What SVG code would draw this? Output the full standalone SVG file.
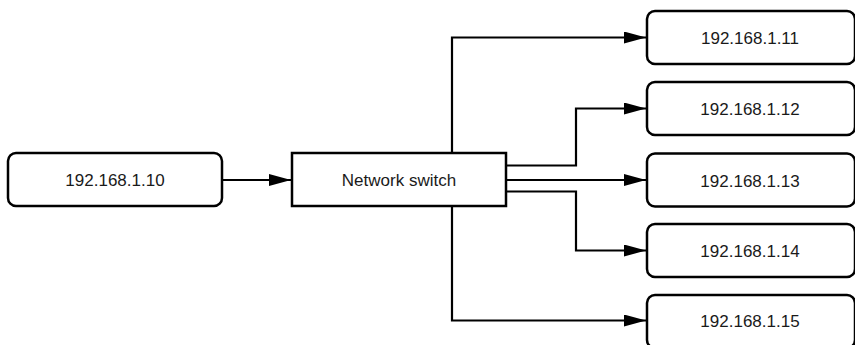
<svg xmlns="http://www.w3.org/2000/svg" width="855" height="345" viewBox="0 0 855 345">
<defs>
<style>
.n{fill:#fff;stroke:#000;stroke-width:2.5}
.t{font-family:"Liberation Sans",Arial,sans-serif;font-size:17px;fill:#1a1a1a;text-anchor:middle}
.c{fill:none;stroke:#000;stroke-width:2.2}
</style>
<marker id="a" viewBox="0 0 22 12" refX="22" refY="6" markerWidth="22" markerHeight="12" markerUnits="userSpaceOnUse" orient="auto">
<path d="M0,0 L22,6 L0,12 Z" fill="#000"/>
</marker>
</defs>
<rect width="855" height="345" fill="#fff"/>
<g id="connectors">
<path class="c" d="M222,180 H291" marker-end="url(#a)"/>
<path class="c" d="M452,153 V37.5 H646" marker-end="url(#a)"/>
<path class="c" d="M506,165.5 H576 V108.5 H646" marker-end="url(#a)"/>
<path class="c" d="M506,180 H646" marker-end="url(#a)"/>
<path class="c" d="M506,191.5 H576 V250.5 H646" marker-end="url(#a)"/>
<path class="c" d="M452,206 V320.5 H646" marker-end="url(#a)"/>
</g>
<g id="n10"><rect class="n" x="8" y="153" width="214" height="53" rx="8"/><text class="t" x="115" y="186">192.168.1.10</text></g>
<g id="switch"><rect class="n" x="292" y="153" width="214" height="53" rx="0"/><text class="t" x="399" y="186">Network switch</text></g>
<g id="n11"><rect class="n" x="647" y="11" width="208" height="53" rx="8"/><text class="t" x="750" y="44">192.168.1.11</text></g>
<g id="n12"><rect class="n" x="647" y="82" width="208" height="53" rx="8"/><text class="t" x="750" y="115">192.168.1.12</text></g>
<g id="n13"><rect class="n" x="647" y="153.5" width="208" height="53" rx="8"/><text class="t" x="750" y="186.5">192.168.1.13</text></g>
<g id="n14"><rect class="n" x="647" y="224" width="208" height="53" rx="8"/><text class="t" x="750" y="257">192.168.1.14</text></g>
<g id="n15"><rect class="n" x="647" y="295" width="208" height="53" rx="8"/><text class="t" x="750" y="327">192.168.1.15</text></g>
</svg>
